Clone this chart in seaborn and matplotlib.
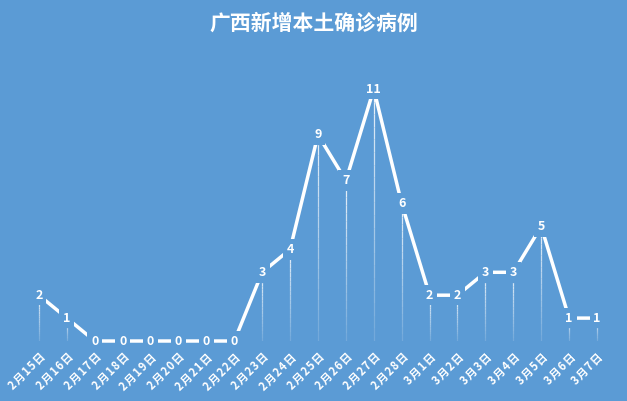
import matplotlib
matplotlib.use("Agg")
import matplotlib.pyplot as plt
import seaborn as sns
import pandas as pd
import numpy as np

dates = ["2月15日", "2月16日", "2月17日", "2月18日", "2月19日", "2月20日", "2月21日",
         "2月22日", "2月23日", "2月24日", "2月25日", "2月26日", "2月27日", "2月28日",
         "3月1日", "3月2日", "3月3日", "3月4日", "3月5日", "3月6日", "3月7日"]
cases = [2, 1, 0, 0, 0, 0, 0, 0, 3, 4, 9, 7, 11, 6, 2, 2, 3, 3, 5, 1, 1]
title = "广西新增本土确诊病例"

BG = "#5B9BD5"
sns.set_theme(style="white")
plt.rcParams['font.family'] = ['Noto Sans CJK SC', 'DejaVu Sans']

df = pd.DataFrame({"x": np.arange(len(dates)), "y": cases})

fig = plt.figure(figsize=(6.27, 4.01), dpi=100, facecolor=BG)
ax = fig.add_axes([0.0399, 0.1496, 0.9345, 0.6855])
ax.set_facecolor(BG)

# drop lines
for xi, yi in zip(df["x"], df["y"]):
    if yi > 0:
        n = 20
        ys = np.linspace(0, yi, n + 1)
        for k in range(n):
            ax.plot([xi, xi], [ys[k], ys[k + 1]], color="white",
                    alpha=0.15 + 0.75 * (k / n), lw=0.9, zorder=1,
                    solid_capstyle="butt")

sns.lineplot(data=df, x="x", y="y", ax=ax, color="white", lw=2.5, zorder=2,
             clip_on=False)

for xi, yi in zip(df["x"], df["y"]):
    ax.text(xi, yi, str(yi), ha="center", va="center", color="white",
            fontsize=9, fontweight="bold", zorder=3,
            bbox=dict(boxstyle="square,pad=0.3", fc=BG, ec="none"))

spaced = ["\u200a".join(list(d)) for d in dates]

ax.set_xlim(-0.5, len(dates) - 0.5)
ax.set_ylim(0, 12)
ax.set_xticks(df["x"])
ax.set_xticklabels(spaced, rotation=45, ha="right", va="top",
                   rotation_mode="anchor", color="white", fontsize=8,
                   fontweight="bold")
ax.tick_params(axis="x", length=0, pad=7)
ax.set_yticks([])
ax.set_xlabel("")
ax.set_ylabel("")
for s in ax.spines.values():
    s.set_visible(False)

fig.text(0.5, 0.943, title, ha="center", va="center", color="white",
         fontsize=15, fontweight="bold")

fig.savefig("out.png", dpi=100, facecolor=BG)
